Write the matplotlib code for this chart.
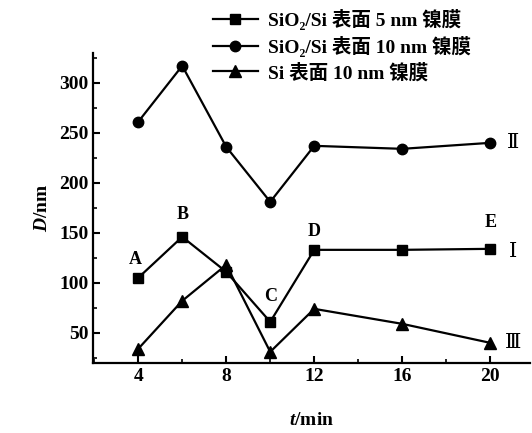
import matplotlib
matplotlib.use("Agg")
import matplotlib.pyplot as plt
from matplotlib.ticker import MultipleLocator

FAM = ['Liberation Serif', 'DejaVu Serif', 'Noto Sans CJK SC']
plt.rcParams['font.family'] = FAM
plt.rcParams['mathtext.fontset'] = 'custom'
plt.rcParams['mathtext.rm'] = 'Liberation Serif'
plt.rcParams['mathtext.it'] = 'Liberation Serif:italic:bold'
plt.rcParams['mathtext.bf'] = 'Liberation Serif:bold'

t = [4, 6, 8, 10, 12, 16, 20]
d_5nm_sio2 = [105, 146, 111, 61, 133, 133, 134]
d_10nm_sio2 = [261, 317, 236, 181, 237, 234, 240]
d_10nm_si = [34, 82, 118, 31, 74, 59, 40]

series_labels = ['SiO₂/Si 表面 5 nm 镍膜',
                 'SiO₂/Si 表面 10 nm 镍膜',
                 'Si 表面 10 nm 镍膜']
point_labels = ['A', 'B', 'C', 'D', 'E']
point_t = [4, 6, 10, 12, 20]
point_d = [123, 168, 86, 151, 160]
roman = ['Ⅱ', 'Ⅰ', 'Ⅲ']
roman_d = [240, 131, 40]

fig = plt.figure(figsize=(5.32, 4.33), dpi=100)
ax = fig.add_axes([0.175, 0.162, 0.821, 0.716])

l1, = ax.plot(t, d_5nm_sio2, '-s', color='black', lw=1.6, ms=7, label=series_labels[0])
l2, = ax.plot(t, d_10nm_sio2, '-o', color='black', lw=1.6, ms=7.5, label=series_labels[1])
l3, = ax.plot(t, d_10nm_si, '-^', color='black', lw=1.6, ms=8.5, label=series_labels[2])

for lab, x, y in zip(point_labels, point_t, point_d):
    ax.text(x - (0.15 if lab == 'A' else 0), y, lab, ha='center', va='center',
            fontsize=13, fontweight='bold')
for lab, y in zip(roman, roman_d):
    ax.text(21.05, y, lab, ha='center', va='center', fontsize=15,
            family=['DejaVu Serif', 'Noto Sans CJK SC'])

ax.set_xlim(1.95, 21.8)
ax.set_ylim(20, 330)
ax.set_xticks([4, 8, 12, 16, 20])
ax.xaxis.set_minor_locator(MultipleLocator(2))
ax.set_yticks([50, 100, 150, 200, 250, 300])
ax.yaxis.set_minor_locator(MultipleLocator(25))
ax.tick_params(direction='in', which='major', length=5, width=1.5, labelsize=14)
ax.tick_params(direction='in', which='minor', length=3, width=1.2)
for lab in ax.get_xticklabels() + ax.get_yticklabels():
    lab.set_fontweight('bold')
ax.spines['top'].set_visible(False)
ax.spines['right'].set_visible(False)
ax.spines['left'].set_linewidth(1.6)
ax.spines['bottom'].set_linewidth(1.6)

ax.set_xlabel('$t$/min', fontsize=14, fontweight='bold', labelpad=20)
ax.set_ylabel('$D$/nm', fontsize=14, fontweight='bold', labelpad=6)

fig.legend(handles=[l1, l2, l3], loc='upper left', bbox_to_anchor=(0.375, 1.01),
           frameon=False, prop={'size': 14, 'weight': 'bold'}, handlelength=2.3,
           labelspacing=0.3, handletextpad=0.5, borderaxespad=0.3)

fig.savefig('out.png', dpi=100)
